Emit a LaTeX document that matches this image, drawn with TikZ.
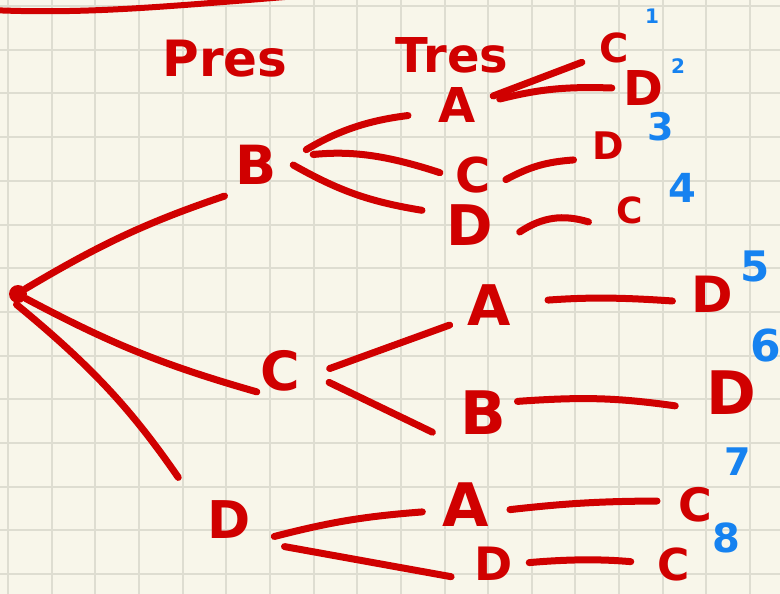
\documentclass[tikz,border=0pt]{standalone}
\usepackage{fontspec}
\setmainfont{DejaVu Sans}
\definecolor{paper}{RGB}{248,246,234}
\definecolor{gridline}{RGB}{222,221,209}
\definecolor{inkred}{RGB}{208,0,0}
\definecolor{inkblue}{RGB}{22,130,240}
\newcommand{\handsize}[1]{\fontsize{#1}{#1}\selectfont\bfseries}
\begin{document}
\begin{tikzpicture}[
        x=1pt, y=-1pt,
        letter/.style={circle, inner sep=0pt, minimum size=#1, text=inkred},
        flatletter/.style={rectangle, inner sep=0pt, text=inkred},
        num/.style={inner sep=0pt, text=inkblue},
        dot/.style={circle, fill=inkred, inner sep=0pt, minimum size=18pt},
        link/.style={draw=inkred, line width=7pt, line cap=round},
        gridrule/.style={draw=gridline, line width=2pt}
        ]

        % Paper and grid
        \fill[paper] (0, 0) rectangle (780, 594);
        \useasboundingbox (0, 0) rectangle (780, 594);
        \foreach \i in {0,...,17} \draw[gridrule] ({8+43.65*\i}, 0) -- ({8+43.65*\i}, 594);
        \foreach \j in {0,...,13} \draw[gridrule] (0, {6+43.7*\j}) -- (780, {6+43.7*\j});

        % Stroke along the top edge
        \draw[link, line width=6pt] (-10, 10) .. controls (80, 14) and (150, 8) .. (285, -3);

        % Column headings
        \node[text=inkred, font=\handsize{50}] (hPres) at (225, 59) {Pres};
        \node[text=inkred, font=\handsize{48}] (hTres) at (452, 55) {Tres};

        % Root
        \node[dot] (root) at (18, 294) {};

        % Pres level
        \node[letter=74pt, font=\handsize{54}] (pB) at (256, 165) {B};
        \node[letter=62pt, font=\handsize{54}] (pC) at (280, 371) {C};
        \node[letter=96pt, font=\handsize{52}] (pD) at (229, 520) {D};

        % Tres level
        \node[letter=74pt, font=\handsize{48}] (tA) at (457, 105) {A};
        \node[letter=66pt, font=\handsize{48}] (tC) at (473, 175) {C};
        \node[letter=100pt, font=\handsize{56}] (tD) at (470, 225) {D};
        \node[letter=88pt, font=\handsize{56}] (tA2) at (489, 305) {A};
        \node[letter=88pt, font=\handsize{60}] (tB2) at (483, 413) {B};
        \node[letter=88pt, font=\handsize{60}] (tA3) at (466, 505) {A};
        \node[flatletter, font=\handsize{46}] (tB3) at (494, 564) {D};

        % Third level
        \node[letter=70pt, font=\handsize{40}] (c1) at (614, 48) {C};
        \node[letter=62pt, font=\handsize{48}] (d2) at (643, 88) {D};
        \node[letter=74pt, font=\handsize{38}] (d3) at (608, 146) {D};
        \node[letter=86pt, font=\handsize{36}] (c4) at (630, 210) {C};
        \node[letter=80pt, font=\handsize{50}] (d5) at (712, 294) {D};
        \node[letter=114pt, font=\handsize{60}] (d6) at (731, 393) {D};
        \node[letter=76pt, font=\handsize{46}] (c7) at (695, 505) {C};
        \node[flatletter, font=\handsize{44}] (c8) at (674, 564) {C};

        % Outcome numbers
        \node[num, font=\handsize{20}] (n1) at (652, 16) {1};
        \node[num, font=\handsize{20}] (n2) at (678, 66) {2};
        \node[num, font=\handsize{38}] (n3) at (661, 127) {3};
        \node[num, font=\handsize{40}] (n4) at (682, 188) {4};
        \node[num, font=\handsize{42}] (n5) at (755, 266) {5};
        \node[num, font=\handsize{44}] (n6) at (766, 346) {6};
        \node[num, font=\handsize{38}] (n7) at (738, 462) {7};
        \node[num, font=\handsize{40}] (n8) at (726, 538) {8};

        % Root to Pres
        \draw[link, shorten >=8pt] (root.35) to[bend left=6] (pB.-130);
        \draw[link] (root.-30) to[bend right=6] (pC.-138);
        \draw[link, shorten <=4pt, shorten >=19pt] (root.-120) to[bend left=8] (pD.146);

        % Pres to Tres
        \draw[link, shorten <=16pt, shorten >=13pt] (pB.11) to[bend left=12] (tA.-166);
        \draw[link, shorten <=21pt] (pB.13) to[bend left=12] (tC.176);
        \draw[link] (pB.0) to[bend right=10] (tD.163);
        \draw[link, shorten <=20pt] (pC.-8) -- (tA2.-153);
        \draw[link, shorten <=20pt, shorten >=17pt] (pC.-5) -- (tB2.-143);
        \draw[link] (pD.-20) to[bend left=5] (tA3.-171);
        \draw[link, shorten <=14pt, shorten >=24pt] (pD.-30) -- (tB3.south west);

        % Tres to third
        \draw[link] (tA.14) -- (c1.-156);
        \draw[link, shorten <=6pt] (tA.7) to[bend left=8] (d2.180);
        \draw[link] (tC.-8) to[bend left=12] (d3.-158);
        \draw[link] (tD.-8) to[bend left=25] (c4.-164);
        \draw[link, shorten <=15pt] (tA2.5) to[bend left=4] (d5.-170);
        \draw[link, shorten <=-8pt] (tB2.16) to[bend left=6] (d6.-167);
        \draw[link] (tA3.-6) to[bend left=3] (c7.174);
        \draw[link, shorten <=16pt, shorten >=27pt] (tB3.east) to[bend left=5] (c8.west);

    \end{tikzpicture}
\end{document}
